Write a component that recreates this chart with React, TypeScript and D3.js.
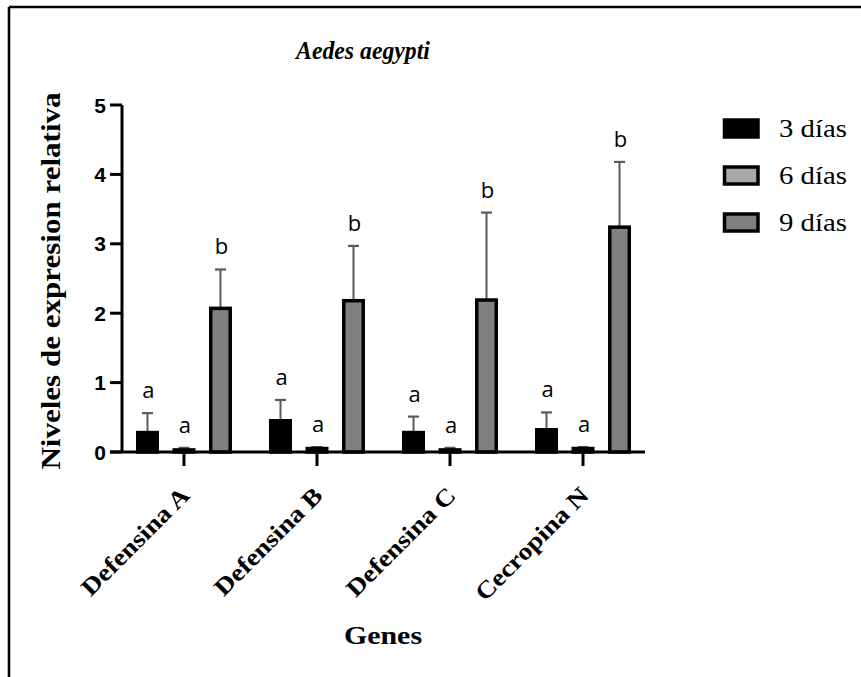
import React from "react";
import * as d3 from "d3";

// Relative expression levels per gene and sampling day (mean and upper SD)
const genes = ["Defensina A", "Defensina B", "Defensina C", "Cecropina N"];
const seriesNames = ["3 días", "6 días", "9 días"];
const mean3 = [0.28, 0.45, 0.28, 0.32];
const mean6 = [0.03, 0.05, 0.03, 0.05];
const mean9 = [2.07, 2.18, 2.19, 3.24];
const sd3 = [0.28, 0.3, 0.23, 0.25];
const sd6 = [0.03, 0.02, 0.03, 0.02];
const sd9 = [0.56, 0.79, 1.26, 0.94];
const letters3 = ["a", "a", "a", "a"];
const letters6 = ["a", "a", "a", "a"];
const letters9 = ["b", "b", "b", "b"];
const yTicks = [0, 1, 2, 3, 4, 5];

const fills = ["#000000", "#a8a8a8", "#808080"];

const W = 861;
const H = 677;
const SERIF = "'Liberation Serif', 'Times New Roman', serif";
const SANS = "'Liberation Sans', Arial, sans-serif";
const SX = 1.15; // horizontal stretch of serif lettering

export default function App() {
  const x0 = 122;
  const x1 = 645;
  const yScale = d3.scaleLinear().domain([0, 5]).range([452, 105]);
  const xGroup = d3.scalePoint<string>().domain(genes).range([x0, x1]).padding(0.466);
  const xSeries = d3
    .scaleBand<string>()
    .domain(seriesNames)
    .range([-54.75, 54.75])
    .paddingInner(0.37)
    .paddingOuter(0.185);

  const means = [mean3, mean6, mean9];
  const sds = [sd3, sd6, sd9];
  const letters = [letters3, letters6, letters9];
  const sw = 3.5;
  const bw = xSeries.bandwidth();

  const bars: React.ReactNode[] = [];
  genes.forEach((g, gi) => {
    seriesNames.forEach((s, si) => {
      const cx = (xGroup(g) as number) + (xSeries(s) as number) + bw / 2;
      const m = means[si][gi];
      const top = m + sds[si][gi];
      const yTop = yScale(m);
      const yErr = yScale(top);
      bars.push(
        <g key={`${g}-${s}`}>
          <line x1={cx} x2={cx} y1={yTop} y2={yErr} stroke="#5a5a5a" strokeWidth={2} />
          <line x1={cx - 5.5} x2={cx + 5.5} y1={yErr} y2={yErr} stroke="#5a5a5a" strokeWidth={2.2} />
          <rect
            x={cx - bw / 2 + sw / 2}
            y={yTop}
            width={bw - sw}
            height={Math.max(0.5, yScale(0) - yTop)}
            fill={fills[si]}
            stroke="#000"
            strokeWidth={sw}
          />
          <text
            x={cx + 1}
            y={yErr - 15}
            textAnchor="middle"
            fontFamily="'Open Sans', sans-serif"
            fontSize={22}
            fill="#000"
          >
            {letters[si][gi]}
          </text>
        </g>
      );
    });
  });

  return (
    <svg
      width={W}
      height={H}
      style={{ position: "absolute", left: 0, top: 0, background: "#fff" }}
    >
      {/* frame */}
      <line x1={9} x2={W} y1={7} y2={7} stroke="#000" strokeWidth={2.6} />
      <line x1={9} x2={9} y1={7} y2={H} stroke="#000" strokeWidth={2.6} />

      {/* title */}
      <text
        transform="translate(363,59) scale(0.95,1)"
        textAnchor="middle"
        fontFamily={SERIF}
        fontWeight="bold"
        fontStyle="italic"
        fontSize={25}
      >
        Aedes aegypti
      </text>

      {/* y axis */}
      <line x1={x0} x2={x0} y1={yScale(5)} y2={yScale(0)} stroke="#000" strokeWidth={3} />
      {yTicks.map((t) => (
        <g key={t}>
          <line x1={x0 - 12} x2={x0} y1={yScale(t)} y2={yScale(t)} stroke="#000" strokeWidth={3} />
          <text
            x={x0 - 16}
            y={yScale(t)}
            dy="0.36em"
            textAnchor="end"
            fontFamily={SANS}
            fontWeight="bold"
            fontSize={21}
          >
            {t}
          </text>
        </g>
      ))}
      <text
        transform={`translate(60,281) rotate(-90) scale(${SX},1)`}
        textAnchor="middle"
        fontFamily={SERIF}
        fontWeight="bold"
        fontSize={27}
      >
        Niveles de expresion relativa
      </text>

      {/* bars, error bars and significance letters */}
      {bars}

      {/* x axis */}
      <line x1={x0 - 12} x2={x1} y1={yScale(0)} y2={yScale(0)} stroke="#000" strokeWidth={3} />
      {genes.map((g) => {
        const gx = xGroup(g) as number;
        return (
          <g key={g}>
            <line x1={gx} x2={gx} y1={yScale(0)} y2={yScale(0) + 14} stroke="#000" strokeWidth={3} />
            <text
              transform={`translate(${gx + 7},497) rotate(-45) scale(${SX},1)`}
              textAnchor="end"
              fontFamily={SERIF}
              fontWeight="bold"
              fontSize={24}
            >
              {g}
            </text>
          </g>
        );
      })}
      <text
        transform={`translate(383,644) scale(${SX},1)`}
        textAnchor="middle"
        fontFamily={SERIF}
        fontWeight="bold"
        fontSize={26}
      >
        Genes
      </text>

      {/* legend */}
      {seriesNames.map((s, i) => {
        const ly = 120 + i * 47;
        return (
          <g key={s}>
            <rect
              x={724.5}
              y={ly}
              width={33.5}
              height={17}
              fill={fills[i]}
              stroke="#000"
              strokeWidth={3.5}
            />
            <text
              transform={`translate(779,${ly + 17}) scale(${SX},1)`}
              fontFamily={SERIF}
              fontSize={25}
            >
              {s}
            </text>
          </g>
        );
      })}
    </svg>
  );
}
